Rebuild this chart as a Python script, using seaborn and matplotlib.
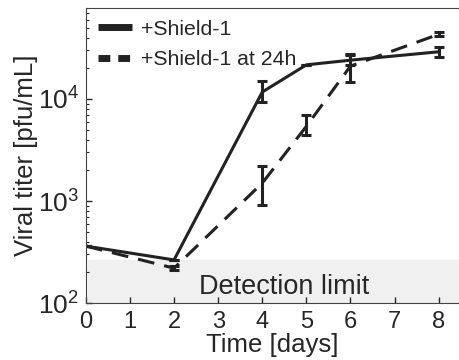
import numpy as np
import pandas as pd
import seaborn as sns
import matplotlib.pyplot as plt
from matplotlib.lines import Line2D

# data
days = [0, 2, 4, 5, 6, 8]
shield = [362, 265, 11700, 21600, 24000, 29000]
shield_lo = [362, 265, 9400, 21600, 21500, 26000]
shield_hi = [362, 265, 15000, 21600, 27000, 32000]
shield24 = [362, 220, 1500, 5400, 21000, 43000]
shield24_lo = [362, 210, 910, 4400, 14700, 41000]
shield24_hi = [362, 230, 2200, 6900, 27700, 45500]
detection_limit = 262

sns.set_style('ticks')
plt.rcParams['font.family'] = ['Liberation Sans', 'DejaVu Sans']
plt.rcParams['mathtext.default'] = 'regular'

df = pd.DataFrame({
    'day': days * 2,
    'titer': shield + shield24,
    'group': ['+Shield-1'] * 6 + ['+Shield-1 at 24h'] * 6,
})

fig = plt.figure(figsize=(4.59, 3.6), dpi=100)
ax = fig.add_axes([0.187, 0.158, 0.813, 0.82])

# detection limit band
ax.axhspan(1, detection_limit, xmin=0.005, color='#f0f0f0', zorder=0)
ax.text(4.5, 145, 'Detection limit', ha='center', va='center', fontsize=19.5)

sns.lineplot(data=df, x='day', y='titer', style='group', color='#222222',
             linewidth=2.2, dashes=[(None, None), (5.5, 3.3)], legend=False, ax=ax)

for vals, lo, hi in [(shield, shield_lo, shield_hi), (shield24, shield24_lo, shield24_hi)]:
    vals = np.array(vals)
    err = [vals - np.array(lo), np.array(hi) - vals]
    ax.errorbar(days, vals, yerr=err, fmt='none', ecolor='#222222',
                elinewidth=2.2, capsize=3.5, capthick=2.2)

ax.set_yscale('log')
ax.set_xlim(0, 8.46)
ax.set_ylim(100, 78000)
ax.set_xticks(range(9))
ax.tick_params(axis='both', direction='in', length=4, width=1)
ax.tick_params(axis='y', which='minor', direction='in', length=2.5, width=0.8)
ax.tick_params(axis='x', pad=6, labelsize=17)
ax.tick_params(axis='y', pad=5, labelsize=19)
ax.spines['right'].set_visible(False)
for s in ['left', 'bottom', 'top']:
    ax.spines[s].set_color('#444444')
ax.set_xlabel('Time [days]', fontsize=18.5, labelpad=0)
ax.set_ylabel('Viral titer [pfu/mL]', fontsize=18.5, labelpad=0)

handles = [Line2D([], [], color='#222222', lw=5, solid_capstyle='butt'),
           Line2D([], [], color='#222222', lw=5, dashes=(1.7, 1.15))]
ax.legend(handles, ['+Shield-1', '+Shield-1 at 24h'], loc='upper left',
          frameon=False, fontsize=15.3, handlelength=1.6, handletextpad=0.45,
          labelspacing=0.55, borderaxespad=0.45, borderpad=0.1)

fig.savefig('out.png', dpi=100)
